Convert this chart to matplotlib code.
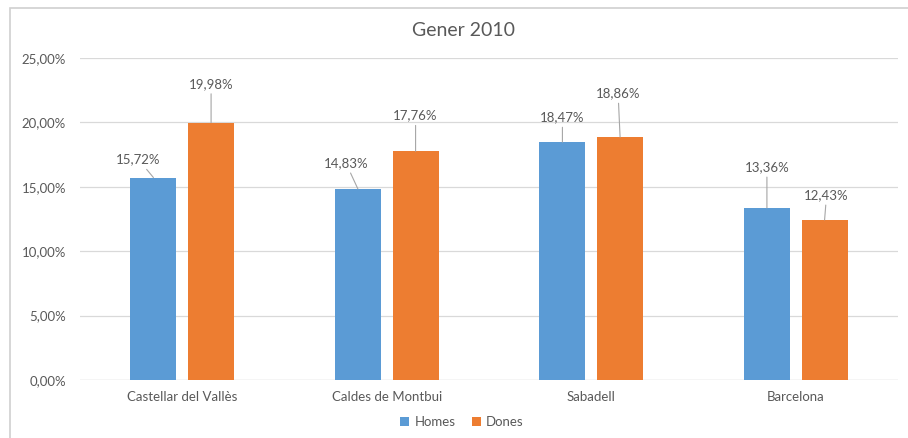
import matplotlib
matplotlib.use('Agg')
import matplotlib.pyplot as plt
import numpy as np
from matplotlib.patches import Rectangle

# data
cities = ['Castellar del Vallès', 'Caldes de Montbui', 'Sabadell', 'Barcelona']
homes = [15.72, 14.83, 18.47, 13.36]
dones = [19.98, 17.76, 18.86, 12.43]
yticks = [0, 5, 10, 15, 20, 25]

# label offsets (pixels from bar top) as placed in the original
homes_off = [(-15, 18), (-12, 26), (0, 25), (0, 41)]
dones_off = [(0, 39), (0, 36), (-2, 44), (2, 25)]

blue = '#5B9BD5'
orange = '#ED7D31'
txt = '#595959'
grid = '#D9D9D9'

plt.rcParams['font.family'] = ['Lato', 'DejaVu Sans']

W, H = 908, 438
fig = plt.figure(figsize=(W / 100, H / 100), dpi=100)
ax = fig.add_axes([80 / W, 1 - 380 / H, 818 / W, 322 / H])

x = np.arange(len(cities))
bw = 0.225
off = 0.141
b1 = ax.bar(x - off, homes, bw, color=blue, label='Homes', zorder=3)
b2 = ax.bar(x + off, dones, bw, color=orange, label='Dones', zorder=3)

def fmt(v):
    return ('%.2f%%' % v).replace('.', ',')

for bars, vals, offs in [(b1, homes, homes_off), (b2, dones, dones_off)]:
    for rect, v, (dx, dy) in zip(bars, vals, offs):
        cx = rect.get_x() + rect.get_width() / 2
        ax.annotate(fmt(v), xy=(cx, v), xytext=(dx, dy), textcoords='offset pixels',
                    ha='center', va='center', fontsize=9.5, color=txt,
                    arrowprops=dict(arrowstyle='-', color='#A6A6A6', lw=0.8,
                                    shrinkA=1, shrinkB=0))

ax.set_xlim(-0.5, 3.5)
ax.set_ylim(0, 25)
ax.set_yticks(yticks)
ax.set_yticklabels([fmt(t) for t in yticks])
ax.set_xticks(x)
ax.set_xticklabels(cities)
ax.tick_params(axis='both', length=0, colors=txt, labelsize=9.5)
ax.tick_params(axis='y', pad=10)
ax.tick_params(axis='x', pad=8)
ax.yaxis.grid(True, color=grid, lw=0.9, zorder=0)
for s in ax.spines.values():
    s.set_visible(False)
ax.axhline(0, color=grid, lw=0.9, zorder=1)

fig.text(463 / W, 1 - 31 / H, 'Gener 2010', ha='center', va='center', fontsize=14, color=txt)

fig.legend(handles=[b1, b2], labels=['Homes', 'Dones'], loc='center',
           bbox_to_anchor=(462 / W, 1 - 422 / H), ncol=2, frameon=False,
           fontsize=9.5, labelcolor=txt, handlelength=0.7, handleheight=0.7,
           handletextpad=0.4, columnspacing=1.2)

# chart area border
fig.add_artist(Rectangle((10 / W, -0.02), 1.0, 1 - 8 / H + 0.02, transform=fig.transFigure,
                         fill=False, edgecolor='#D0D0D0', lw=1.2, clip_on=False))

fig.savefig('out.png', dpi=100, facecolor='white')
